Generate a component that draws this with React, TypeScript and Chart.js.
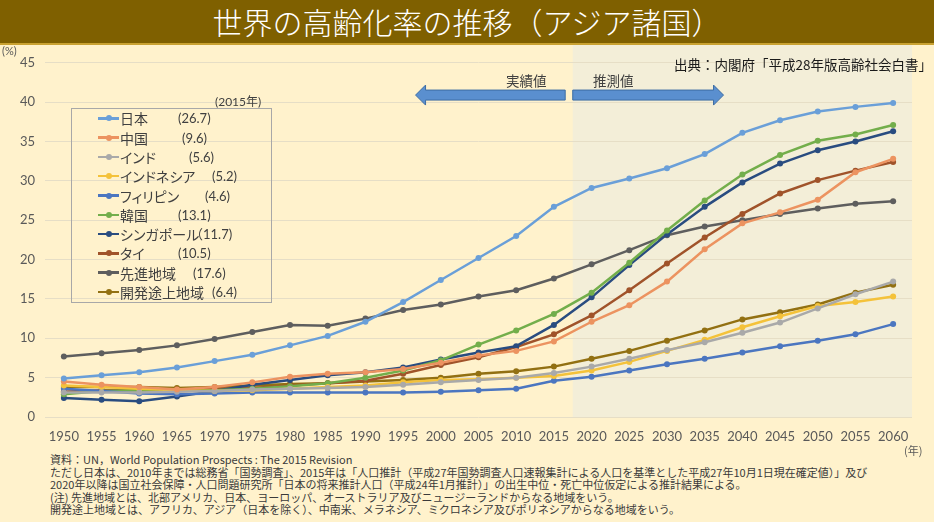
import React, { useEffect, useRef } from "react";
import { Chart, registerables } from "chart.js";
Chart.register(...registerables);

const years = ["1950","1955","1960","1965","1970","1975","1980","1985","1990","1995","2000","2005","2010","2015","2020","2025","2030","2035","2040","2045","2050","2055","2060"];

const japan = [4.9,5.3,5.7,6.3,7.1,7.9,9.1,10.3,12.1,14.6,17.4,20.2,23.0,26.7,29.1,30.3,31.6,33.4,36.1,37.7,38.8,39.4,39.9];
const china = [4.5,4.1,3.8,3.5,3.8,4.4,5.1,5.5,5.7,6.1,6.9,7.8,8.4,9.6,12.1,14.2,17.2,21.3,24.6,26.0,27.6,31.1,32.8];
const india = [3.1,3.1,3.1,3.2,3.3,3.5,3.6,3.7,3.8,4.1,4.4,4.7,5.0,5.6,6.4,7.4,8.5,9.5,10.7,12.0,13.8,15.6,17.2];
const indonesia = [4.0,3.8,3.6,3.4,3.3,3.4,3.6,3.8,4.0,4.4,4.7,4.8,5.0,5.2,5.9,7.0,8.4,9.8,11.4,12.8,14.1,14.6,15.3];
const philippines = [3.6,3.3,3.0,2.9,3.0,3.1,3.1,3.1,3.1,3.1,3.2,3.4,3.6,4.6,5.1,5.9,6.7,7.4,8.2,9.0,9.7,10.5,11.8];
const korea = [2.9,3.3,3.4,3.3,3.4,3.6,3.9,4.3,5.0,5.9,7.2,9.2,11.0,13.1,15.8,19.6,23.7,27.5,30.8,33.3,35.1,35.9,37.1];
const singapore = [2.4,2.2,2.0,2.6,3.3,4.1,4.7,5.3,5.7,6.3,7.3,8.2,9.0,11.7,15.2,19.3,23.2,26.7,29.8,32.2,33.9,35.0,36.3];
const thailand = [3.2,3.4,3.4,3.5,3.6,3.7,4.0,4.3,4.6,5.5,6.6,7.6,8.9,10.5,12.9,16.1,19.5,22.8,25.8,28.4,30.1,31.3,32.4];
const developed = [7.7,8.1,8.5,9.1,9.9,10.8,11.7,11.6,12.5,13.6,14.3,15.3,16.1,17.6,19.4,21.2,23.1,24.2,25.0,25.8,26.5,27.1,27.4];
const developing = [3.8,3.8,3.8,3.7,3.8,4.0,4.2,4.3,4.5,4.7,5.0,5.5,5.8,6.4,7.4,8.4,9.7,11.0,12.4,13.3,14.3,15.8,16.8];

const seriesNames = ["日本","中国","インド","インドネシア","フィリピン","韓国","シンガポール","タイ","先進地域","開発途上地域"];
const seriesValues = [japan,china,india,indonesia,philippines,korea,singapore,thailand,developed,developing];
const seriesColors = ["#6A9FD8","#EC9360","#A9A9A9","#F4C23A","#4B76C0","#73AE4B","#294C80","#A0532A","#5E5E5E","#927012"];
const values2015 = ["(26.7)","(9.6)","(5.6)","(5.2)","(4.6)","(13.1)","（11.7)","(10.5)","(17.6)","(6.4)"];

const yTicks = [0,5,10,15,20,25,30,35,40,45];

const titleText = "世界の高齢化率の推移（アジア諸国）";
const sourceText = "出典：内閣府「平成28年版高齢社会白書」";
const actualLabel = "実績値";
const projLabel = "推測値";
const legendYearLabel = "(2015年)";
const footnotes = [
  "資料：UN，World Population Prospects : The 2015 Revision",
  "ただし日本は、2010年までは総務省「国勢調査」、2015年は「人口推計（平成27年国勢調査人口速報集計による人口を基準とした平成27年10月1日現在確定値）」及び",
  "2020年以降は国立社会保障・人口問題研究所「日本の将来推計人口（平成24年1月推計）」の出生中位・死亡中位仮定による推計結果による。",
  "(注) 先進地域とは、北部アメリカ、日本、ヨーロッパ、オーストラリア及びニュージーランドからなる地域をいう。",
  "開発途上地域とは、アフリカ、アジア（日本を除く）、中南米、メラネシア、ミクロネシア及びポリネシアからなる地域をいう。",
];

const legendValueX = [178, 182, 189, 212, 205, 178, 190, 178, 193, 212];

const CJK = '"Noto Sans CJK JP", sans-serif';
const NUM = 'Lato, "Noto Sans CJK JP", sans-serif';

const bgPlugin = {
  id: "bgShade",
  beforeDraw(chart: any) {
    const { ctx, chartArea, scales } = chart;
    const x = scales.x;
    const step = x.getPixelForValue(1) - x.getPixelForValue(0);
    const boundary = x.getPixelForValue(13) + step / 2;
    ctx.save();
    ctx.fillStyle = "#F3EED8";
    ctx.fillRect(boundary, 0, chartArea.right - boundary, chartArea.bottom);
    ctx.restore();
  },
  afterDraw(chart: any) {
    const { ctx, scales } = chart;
    const x = scales.x;
    const y = scales.y;
    const step = x.getPixelForValue(1) - x.getPixelForValue(0);
    const cy = y.getPixelForValue(40.9);
    const bh = 5;
    const hh = 10;
    const hl = 10;
    const drawArrow = (from: number, to: number) => {
      const dir = to > from ? 1 : -1;
      const base = to - dir * hl;
      ctx.beginPath();
      ctx.moveTo(from, cy - bh);
      ctx.lineTo(base, cy - bh);
      ctx.lineTo(base, cy - hh);
      ctx.lineTo(to, cy);
      ctx.lineTo(base, cy + hh);
      ctx.lineTo(base, cy + bh);
      ctx.lineTo(from, cy + bh);
      ctx.closePath();
      ctx.fillStyle = "#5A8FCF";
      ctx.fill();
      ctx.lineWidth = 1;
      ctx.strokeStyle = "#3D6DA3";
      ctx.stroke();
    };
    ctx.save();
    drawArrow(x.getPixelForValue(13) + step * 0.3, x.getPixelForValue(9) + step * 0.33);
    drawArrow(x.getPixelForValue(13) + step * 0.5, x.getPixelForValue(17) + step * 0.5);
    ctx.restore();
  },
};

function ChartCanvas() {
  const ref = useRef<HTMLCanvasElement>(null);
  useEffect(() => {
    if (!ref.current) return;
    const chart = new Chart(ref.current, {
      type: "line",
      data: {
        labels: years,
        datasets: seriesNames.map((name, i) => ({
          label: name,
          data: seriesValues[i],
          borderColor: seriesColors[i],
          backgroundColor: seriesColors[i],
          pointBackgroundColor: seriesColors[i],
          pointBorderColor: seriesColors[i],
          borderWidth: 2.5,
          pointRadius: 3,
          pointBorderWidth: 0,
          tension: 0,
        })),
      },
      options: {
        responsive: false,
        devicePixelRatio: 1,
        animation: false,
        layout: { padding: { top: 17, right: 22, left: 0, bottom: 0 } },
        plugins: { legend: { display: false }, tooltip: { enabled: false } },
        scales: {
          x: {
            type: "category",
            offset: true,
            grid: { display: false, drawTicks: false },
            border: { display: false },
            ticks: { color: "#595959", font: { family: NUM, size: 13 }, padding: 12, maxRotation: 0, autoSkip: false },
            afterFit: (s: any) => { s.height = 28; },
          },
          y: {
            min: 0,
            max: 45,
            afterBuildTicks: (s: any) => { s.ticks = yTicks.map((v) => ({ value: v })); },
            grid: { color: "#E6DEC6", drawTicks: false, lineWidth: 1 },
            border: { display: false },
            ticks: { color: "#595959", font: { family: NUM, size: 13 }, padding: 10 },
            afterFit: (s: any) => { s.width = 45; },
          },
        },
      } as any,
      plugins: [bgPlugin],
    });
    return () => chart.destroy();
  }, []);
  return <canvas ref={ref} width={934} height={400} style={{ position: "absolute", left: 0, top: 45, width: 934, height: 400 }} />;
}

export default function App() {
  return (
    <div style={{ position: "fixed", left: 0, top: 0, width: 934, height: 522, background: "#FFF2CC", overflow: "hidden", fontFamily: CJK }}>
      <div style={{ position: "absolute", left: 0, top: 0, width: 934, height: 43, background: "#7F6000", color: "#fff", fontSize: 30, lineHeight: "43px", textAlign: "center", fontFamily: CJK, fontWeight: 300 }}>
        {titleText}
      </div>
      <div style={{ position: "absolute", left: 0, top: 43, width: 934, height: 2, background: "#C9A231" }} />
      <ChartCanvas />
      <div style={{ position: "absolute", left: 2, top: 44, fontSize: 11, color: "#595959", fontFamily: NUM }}>(%)</div>
      <div style={{ position: "absolute", left: 904, top: 442, fontSize: 11, color: "#595959", fontFamily: CJK }}>(年)</div>
      <div style={{ position: "absolute", right: 2, top: 54, fontSize: 13.5, color: "#1a1a1a", fontFamily: CJK, whiteSpace: "nowrap" }}>{sourceText}</div>
      <div style={{ position: "absolute", left: 506, top: 70, fontSize: 13.5, color: "#404040", fontFamily: CJK }}>{actualLabel}</div>
      <div style={{ position: "absolute", left: 593, top: 70, fontSize: 13.5, color: "#404040", fontFamily: CJK }}>{projLabel}</div>
      <div style={{ position: "absolute", left: 215, top: 92, fontSize: 12, color: "#404040", fontFamily: NUM }}>{legendYearLabel}</div>
      <div style={{ position: "absolute", left: 71, top: 108, width: 201, height: 195, border: "1px solid #A8A8A8", boxSizing: "border-box" }} />
      {seriesNames.map((name, i) => {
        const cy = 118.3 + 19.3 * i;
        return (
          <React.Fragment key={name}>
            <div style={{ position: "absolute", left: 98, top: cy - 1.25, width: 21, height: 2.5, background: seriesColors[i] }} />
            <div style={{ position: "absolute", left: 105.5, top: cy - 3, width: 6, height: 6, borderRadius: 3, background: seriesColors[i] }} />
            <div style={{ position: "absolute", left: 120, top: cy - 11, height: 22, lineHeight: "22px", fontSize: 14, color: "#404040", fontFamily: CJK, whiteSpace: "nowrap", fontFeatureSettings: '"palt"' }}>{name}</div>
            <div style={{ position: "absolute", left: legendValueX[i], top: cy - 11, height: 22, lineHeight: "22px", fontSize: 13, color: "#404040", fontFamily: NUM, whiteSpace: "nowrap" }}>{values2015[i]}</div>
          </React.Fragment>
        );
      })}
      {footnotes.map((t, i) => (
        <div key={i} style={{ position: "absolute", left: 50, top: 453 + i * 12.5, fontSize: 11, lineHeight: "12px", color: "#3A3A3A", fontFamily: CJK, whiteSpace: "nowrap" }}>{t}</div>
      ))}
    </div>
  );
}
